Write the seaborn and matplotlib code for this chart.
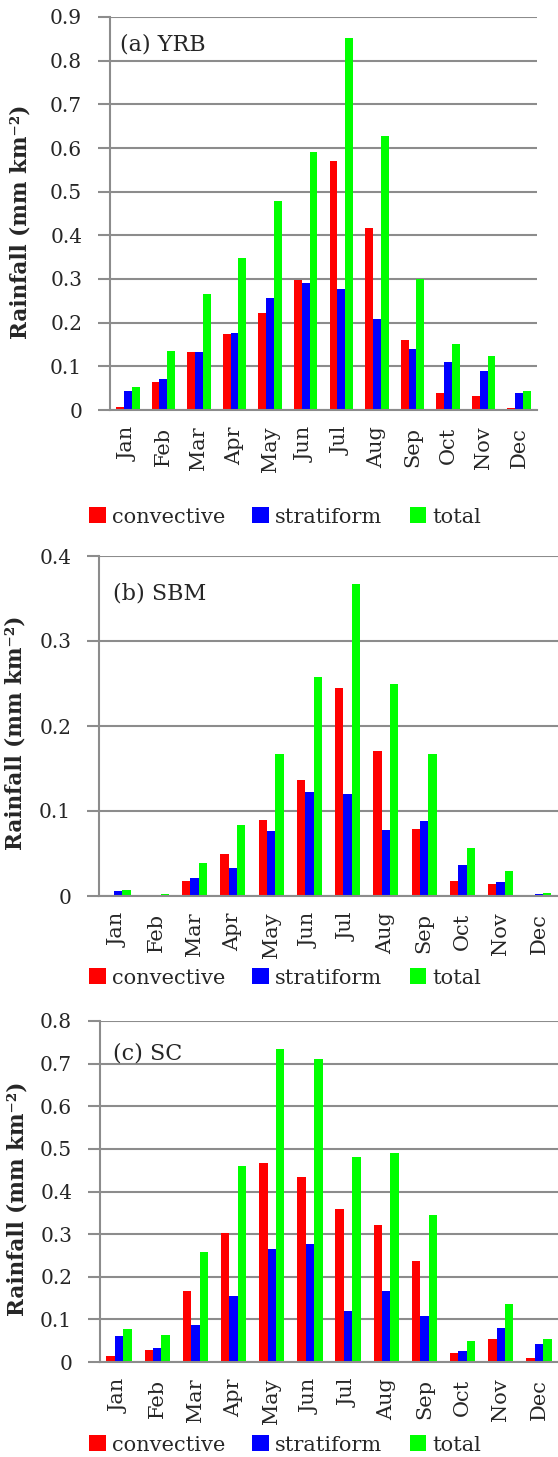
import numpy as np
import pandas as pd
import matplotlib
matplotlib.use("Agg")
import matplotlib.pyplot as plt
from matplotlib.patches import Patch
from matplotlib.ticker import FuncFormatter
import seaborn as sns

months = ["Jan", "Feb", "Mar", "Apr", "May", "Jun", "Jul", "Aug", "Sep", "Oct", "Nov", "Dec"]
types = ["convective", "stratiform", "total"]

yrb_conv = [0.006, 0.063, 0.133, 0.173, 0.221, 0.297, 0.571, 0.416, 0.160, 0.038, 0.033, 0.005]
yrb_strat = [0.044, 0.070, 0.132, 0.176, 0.257, 0.291, 0.278, 0.208, 0.139, 0.111, 0.089, 0.038]
yrb_total = [0.052, 0.135, 0.266, 0.349, 0.479, 0.590, 0.852, 0.627, 0.301, 0.152, 0.124, 0.043]

sbm_conv = [0.0016, 0.0, 0.018, 0.050, 0.090, 0.136, 0.245, 0.171, 0.079, 0.018, 0.014, 0.0]
sbm_strat = [0.006, 0.0, 0.021, 0.033, 0.076, 0.122, 0.120, 0.078, 0.088, 0.037, 0.016, 0.002]
sbm_total = [0.007, 0.002, 0.039, 0.084, 0.167, 0.258, 0.367, 0.249, 0.167, 0.056, 0.029, 0.003]

sc_conv = [0.014, 0.027, 0.167, 0.302, 0.466, 0.434, 0.360, 0.321, 0.236, 0.022, 0.055, 0.009]
sc_strat = [0.061, 0.034, 0.087, 0.156, 0.265, 0.276, 0.120, 0.167, 0.109, 0.026, 0.079, 0.043]
sc_total = [0.077, 0.063, 0.258, 0.460, 0.734, 0.712, 0.482, 0.491, 0.346, 0.049, 0.137, 0.054]

panel_titles = ["(a) YRB", "(b) SBM", "(c) SC"]
ymaxes = [0.9, 0.4, 0.8]
colors = ["#FF0000", "#0000FF", "#00FF00"]

sns.set_theme(style="white")
plt.rcParams["font.family"] = ["DejaVu Serif"]

fig = plt.figure(figsize=(5.58, 14.57), dpi=100)

# axes rectangles [left, bottom, width, height]
rects = [
    [110 / 558, 1 - 410 / 1457, (537 - 110) / 558, (410 - 17) / 1457],
    [99 / 558, 1 - 896 / 1457, (558 - 99) / 558, (896 - 556) / 1457],
    [100 / 558, 1 - 1362 / 1457, (558 - 100) / 558, (1362 - 1021) / 1457],
]
legend_y = [1 - 517 / 1457, 1 - 978 / 1457, 1 - 1445 / 1457]
ylabel_x = [-0.185, -0.158, -0.157]
title_pos = [(0.023, 0.929), (0.03, 0.89), (0.028, 0.906)]

data = [
    (yrb_conv, yrb_strat, yrb_total),
    (sbm_conv, sbm_strat, sbm_total),
    (sc_conv, sc_strat, sc_total),
]

grid_c = "#8c8c8c"

for i in range(3):
    ax = fig.add_axes(rects[i])
    conv, strat, tot = data[i]
    df = pd.DataFrame({
        "Month": months * 3,
        "Rainfall": list(conv) + list(strat) + list(tot),
        "Type": ["convective"] * 12 + ["stratiform"] * 12 + ["total"] * 12,
    })
    sns.barplot(data=df, x="Month", y="Rainfall", hue="Type", hue_order=types,
                palette=colors, saturation=1, width=0.66, gap=0, errorbar=None,
                linewidth=0, legend=False, ax=ax)
    ax.set_xlim(-0.5, 11.5)
    ymax = ymaxes[i]
    ax.set_ylim(0, ymax)
    ax.set_yticks(np.round(np.arange(0, ymax + 1e-9, 0.1), 1))
    ax.yaxis.set_major_formatter(FuncFormatter(lambda v, p: "0" if abs(v) < 1e-9 else f"{v:.1f}"))
    ax.set_axisbelow(True)
    ax.yaxis.grid(True, color=grid_c, lw=1.5)
    ax.xaxis.grid(False)
    for s in ["top", "right"]:
        ax.spines[s].set_visible(False)
    for s in ["left", "bottom"]:
        ax.spines[s].set_color(grid_c)
        ax.spines[s].set_linewidth(1.5)
    ax.set_xticks(np.arange(-0.5, 12, 1), minor=True)
    ax.tick_params(axis="x", which="major", length=0, pad=12, labelsize=15, rotation=90)
    ax.tick_params(axis="x", which="minor", length=7, width=1.5, color=grid_c, direction="out")
    ax.tick_params(axis="y", which="major", length=9, width=1.5, color=grid_c, pad=11,
                   labelsize=14.5, left=True)
    ax.set_xlabel("")
    ax.set_ylabel("Rainfall (mm km\u207b\u00b2)", fontsize=15.5, fontweight="bold")
    ax.yaxis.set_label_coords(ylabel_x[i], 0.48)
    ax.text(title_pos[i][0], title_pos[i][1], panel_titles[i], transform=ax.transAxes,
            fontsize=16, va="center", ha="left")

    handles = [Patch(facecolor=c, edgecolor="none") for c in colors]
    fig.legend(handles, types, loc="center left", bbox_to_anchor=(89 / 558, legend_y[i]),
               ncol=3, frameon=False, handlelength=0.8, handleheight=0.8,
               handletextpad=0.3, columnspacing=1.3, borderpad=0, borderaxespad=0,
               fontsize=15)

fig.savefig("out.png", dpi=100)
